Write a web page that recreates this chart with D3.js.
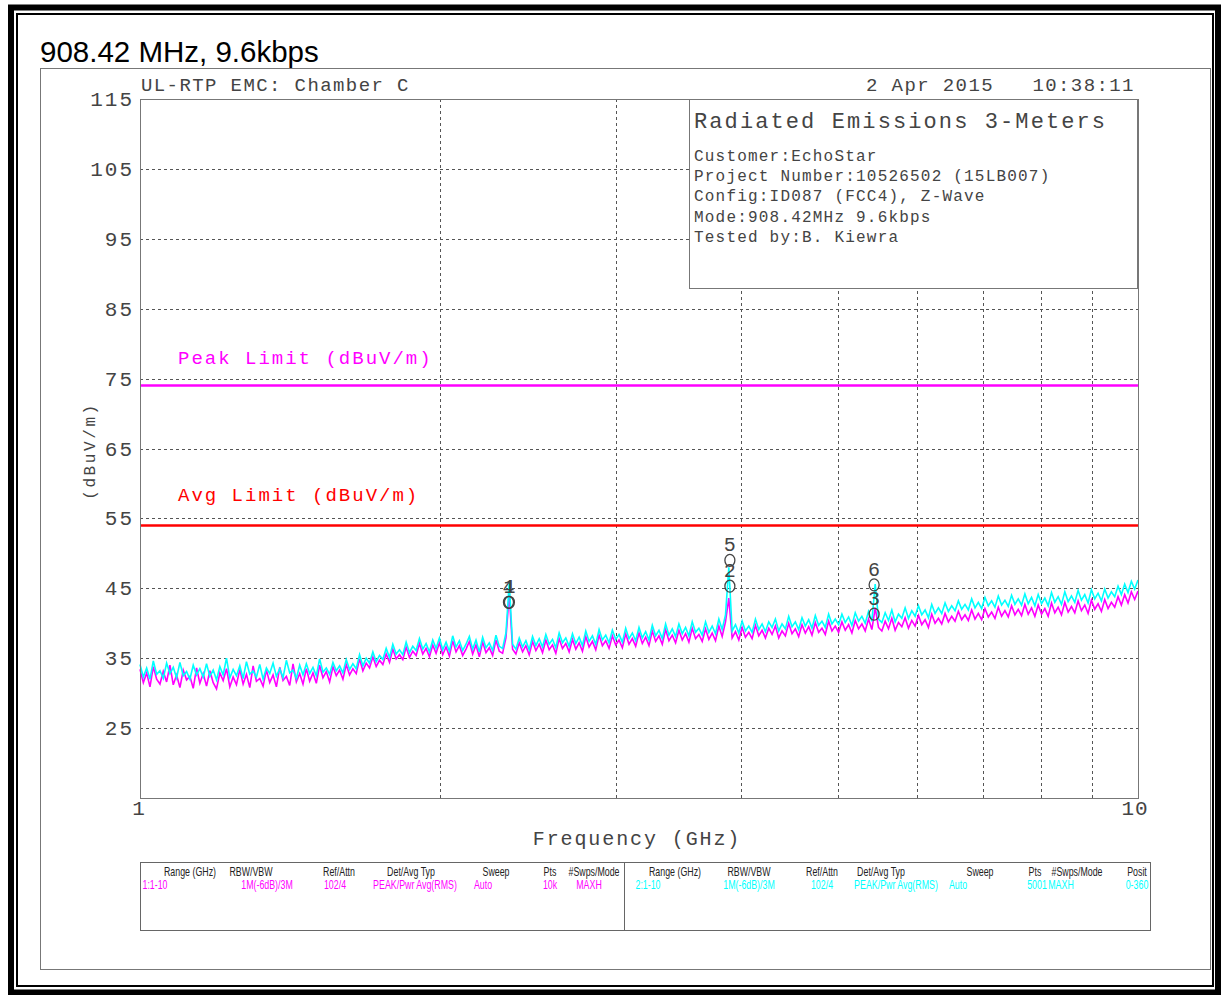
<!DOCTYPE html>
<html>
<head>
<meta charset="utf-8">
<script src="https://cdn.jsdelivr.net/npm/d3@7"></script>
<style>
  html, body { margin: 0; padding: 0; background: #fff; }
  svg { display: block; }
  .plot-font { font-family: "Liberation Mono", "DejaVu Sans Mono", monospace; fill: #444; }
  .table-font { font-family: "Liberation Sans", Arial, sans-serif; }
</style>
</head>
<body>
<svg id="chart" width="1223" height="995"></svg>
<script>
// ---- chart data ----
const chartTitle = "908.42 MHz, 9.6kbps";
const yTickValues = [25, 35, 45, 55, 65, 75, 85, 95, 105, 115];
const xGridValues = [2, 3, 4, 5, 6, 7, 8, 9];
const xTickLabels = [{ f: 1, text: "1" }, { f: 10, text: "10" }];
const peakLimit = 74;
const avgLimit = 54;
const sweepStart = 1;   // GHz
const sweepStop = 10;   // GHz

// Trace 1 (magenta), dBuV/m, sweep points spread evenly over the log frequency axis
const trace1 = [
  33.4, 31.5, 32.9, 30.9, 33.8, 32.0, 31.3, 33.1, 31.6, 34.0,
  31.2, 32.6, 30.8, 33.3, 31.9, 32.4, 30.7, 33.6, 31.4, 32.8,
  31.0, 33.2, 31.5, 30.6, 32.9, 31.8, 33.5, 30.9, 32.3, 31.2,
  33.4, 31.3, 32.7, 30.8, 33.9, 31.7, 32.1, 31.0, 33.3, 31.5,
  32.6, 30.9, 33.7, 31.8, 32.4, 31.1, 34.2, 31.6, 32.8, 31.3,
  33.5, 31.7, 32.9, 31.4, 34.0, 32.2, 33.1, 31.6, 33.8, 32.5,
  33.3, 32.0, 34.1, 32.6, 33.5, 32.8, 34.9, 33.2, 34.3, 33.6,
  35.2, 33.8, 34.7, 34.1, 35.6, 34.4, 36.3, 34.9, 35.5, 34.8,
  36.6, 35.1, 36.0, 35.4, 37.1, 35.6, 36.4, 35.2, 36.9, 35.7,
  37.2, 35.5, 36.6, 35.3, 37.5, 35.9, 36.8, 35.4, 36.3, 37.4,
  35.6, 36.9, 35.2, 37.3, 35.8, 36.5, 35.4, 37.6, 36.0, 35.7,
  37.9, 44.2, 36.3, 35.6, 37.2, 35.9, 36.8, 35.5, 37.4, 36.1,
  37.0, 35.8, 37.6, 36.2, 36.9, 35.7, 37.8, 36.4, 37.1, 35.9,
  37.7, 36.3, 37.2, 36.0, 38.1, 36.6, 37.4, 36.2, 38.3, 36.8,
  37.5, 36.4, 38.2, 36.9, 37.6, 36.5, 38.5, 37.0, 37.8, 36.7,
  38.6, 37.1, 38.0, 36.8, 38.9, 37.4, 38.2, 37.0, 39.1, 37.5,
  38.3, 37.2, 39.0, 37.6, 38.5, 37.3, 39.3, 37.8, 38.4, 37.4,
  39.2, 37.7, 38.6, 37.5, 39.6, 38.1, 40.2, 43.6, 37.9, 38.8,
  37.6, 39.4, 38.0, 38.7, 37.8, 39.7, 38.2, 39.0, 37.9, 39.3,
  38.4, 39.6, 37.9, 38.9, 38.2, 40.0, 38.5, 39.2, 38.1, 39.8,
  38.6, 39.5, 38.3, 40.1, 38.7, 39.3, 38.4, 40.3, 38.9, 39.6,
  38.7, 40.2, 39.0, 39.8, 38.6, 40.4, 39.2, 39.9, 38.9, 40.6,
  39.1, 42.2, 39.4, 38.9, 40.3, 39.2, 40.7, 39.0, 40.1, 39.5,
  40.8, 39.3, 40.4, 39.6, 41.1, 39.8, 40.5, 39.4, 41.3, 40.0,
  40.7, 39.9, 41.4, 40.2, 41.0, 40.3, 41.7, 40.5, 41.2, 40.4,
  41.9, 40.6, 41.4, 40.5, 42.1, 40.9, 41.6, 40.7, 42.3, 41.0,
  41.8, 40.9, 42.5, 41.2, 42.0, 41.1, 42.7, 41.3, 42.2, 41.0,
  42.6, 41.3, 42.1, 41.0, 42.9, 41.5, 42.3, 41.2, 43.0, 41.6,
  42.4, 41.5, 43.2, 41.8, 42.6, 41.4, 43.3, 42.0, 42.8, 41.7,
  43.4, 42.1, 43.0, 42.3, 43.8, 42.6, 44.1, 42.9, 44.5, 43.4,
  44.6
];

// Trace 2 (cyan), dBuV/m, same sweep grid
const trace2 = [
  34.1, 32.3, 33.6, 32.0, 34.6, 32.7, 33.2, 32.1, 34.3, 32.8,
  33.7, 32.2, 34.4, 32.5, 33.1, 32.0, 34.0, 32.6, 33.5, 32.3,
  34.2, 32.4, 33.3, 31.9, 33.8, 32.6, 35.0, 32.2, 33.4, 32.5,
  33.9, 32.1, 34.5, 32.7, 33.2, 32.3, 34.1, 32.0, 33.6, 32.8,
  34.3, 32.4, 33.5, 32.2, 34.7, 32.9, 33.3, 32.1, 34.0, 32.6,
  34.2, 32.8, 33.7, 32.5, 34.9, 33.0, 33.6, 32.7, 34.4, 33.2,
  33.9, 32.9, 34.8, 33.4, 34.2, 33.5, 35.5, 33.9, 35.0, 34.3,
  35.9, 34.5, 35.4, 34.8, 36.4, 35.1, 37.0, 35.6, 36.2, 35.5,
  37.3, 35.8, 36.7, 36.1, 37.8, 36.3, 37.1, 35.9, 37.6, 36.4,
  37.9, 36.2, 37.3, 36.0, 38.2, 36.6, 37.5, 36.1, 37.0, 38.1,
  36.3, 37.6, 35.9, 38.0, 36.5, 37.2, 36.1, 38.3, 36.7, 36.4,
  38.6, 45.8, 37.0, 36.3, 37.9, 36.6, 37.5, 36.2, 38.1, 36.8,
  37.8, 36.6, 38.4, 37.0, 37.7, 36.5, 38.6, 37.2, 37.9, 36.7,
  38.5, 37.1, 38.0, 36.8, 38.9, 37.4, 38.2, 37.0, 39.1, 37.6,
  38.3, 37.2, 39.0, 37.7, 38.4, 37.3, 39.3, 37.8, 38.6, 37.5,
  39.4, 37.9, 38.8, 37.6, 39.7, 38.2, 39.0, 37.8, 39.9, 38.3,
  39.2, 38.1, 39.9, 38.5, 39.4, 38.2, 40.2, 38.7, 39.3, 38.3,
  40.2, 38.7, 39.6, 38.5, 40.6, 39.1, 41.2, 48.0, 38.9, 39.8,
  38.6, 40.3, 38.9, 39.6, 38.7, 40.6, 39.1, 39.9, 38.8, 40.2,
  39.4, 40.6, 38.9, 39.9, 39.2, 41.0, 39.5, 40.2, 39.1, 40.8,
  39.6, 40.5, 39.3, 41.1, 39.7, 40.3, 39.4, 41.3, 39.9, 40.6,
  39.8, 41.3, 40.1, 40.9, 39.7, 41.5, 40.3, 41.0, 40.0, 41.7,
  40.3, 45.6, 40.6, 40.1, 41.5, 40.4, 41.9, 40.2, 41.3, 40.7,
  42.2, 40.7, 41.8, 41.0, 42.5, 41.2, 41.9, 40.8, 42.7, 41.4,
  42.2, 41.4, 42.9, 41.7, 42.5, 41.8, 43.2, 42.0, 42.7, 41.9,
  43.5, 42.2, 43.0, 42.1, 43.7, 42.5, 43.2, 42.3, 43.9, 42.6,
  43.3, 42.4, 44.0, 42.7, 43.5, 42.6, 44.2, 42.8, 43.7, 42.5,
  44.1, 42.8, 43.6, 42.5, 44.4, 43.0, 43.8, 42.7, 44.5, 43.1,
  43.9, 43.0, 44.7, 43.3, 44.1, 42.9, 44.8, 43.5, 44.3, 43.2,
  44.9, 43.6, 44.5, 43.8, 45.3, 44.1, 45.6, 44.4, 46.0, 44.9,
  46.2
];

// Marker labels with their marker circle positions
const markers = [
  { label: "4", f: 2.34, db: 43.0 },
  { label: "1", f: 2.345, db: 43.0 },
  { label: "5", f: 3.90, db: 49.0 },
  { label: "2", f: 3.90, db: 45.3 },
  { label: "6", f: 5.44, db: 45.5 },
  { label: "3", f: 5.44, db: 41.3 }
];

const headerLeft = "UL-RTP EMC: Chamber C";
const headerRight = "2 Apr 2015   10:38:11";
const infoTitle = "Radiated Emissions 3-Meters";
const infoLines = [
  "Customer:EchoStar",
  "Project Number:10526502 (15LB007)",
  "Config:ID087 (FCC4), Z-Wave",
  "Mode:908.42MHz 9.6kbps",
  "Tested by:B. Kiewra"
];

const tableHeaders1 = ["Range (GHz)", "RBW/VBW", "Ref/Attn", "Det/Avg Typ", "Sweep", "Pts", "#Swps/Mode"];
const tableRow1 = ["1:1-10", "1M(-6dB)/3M", "102/4", "PEAK/Pwr Avg(RMS)", "Auto", "10k", "MAXH"];
const tableHeaders2 = ["Range (GHz)", "RBW/VBW", "Ref/Attn", "Det/Avg Typ", "Sweep", "Pts", "#Swps/Mode", "Posit"];
const tableRow2 = ["2:1-10", "1M(-6dB)/3M", "102/4", "PEAK/Pwr Avg(RMS)", "Auto", "5001", "MAXH", "0-360"];

// ---- layout ----
const svg = d3.select("#chart");
const plot = { left: 140, right: 1138, top: 99, bottom: 798 };
const magenta = "#ff00ff", cyan = "#00ffff", red = "#ff0000";

const x = d3.scaleLog().domain([sweepStart, sweepStop]).range([plot.left, plot.right]);
const y = d3.scaleLinear().domain([15, 115]).range([plot.bottom, plot.top]);

// page frame: heavy outer border with a thin rule inside it
svg.append("rect").attr("x", 11).attr("y", 7.5).attr("width", 1207).attr("height", 985)
  .attr("fill", "none").attr("stroke", "#000").attr("stroke-width", 6);
svg.append("rect").attr("x", 17).attr("y", 14).attr("width", 1196).attr("height", 972)
  .attr("fill", "none").attr("stroke", "#000").attr("stroke-width", 2);

// inner sheet frame
svg.append("rect").attr("x", 40.5).attr("y", 68.5).attr("width", 1170).attr("height", 901)
  .attr("fill", "none").attr("stroke", "#777").attr("stroke-width", 1);

svg.append("text").attr("x", 40).attr("y", 62)
  .attr("font-family", "Arial, 'Liberation Sans', sans-serif").attr("font-size", 29.5)
  .attr("fill", "#000").text(chartTitle);

// header lines
svg.append("text").attr("class", "plot-font").attr("x", 141).attr("y", 91)
  .attr("font-size", 19).attr("letter-spacing", 1.4).text(headerLeft);
svg.append("text").attr("class", "plot-font").attr("x", 866).attr("y", 91)
  .attr("font-size", 19).attr("letter-spacing", 1.4)
  .style("white-space", "pre").text(headerRight);

// grid
const grid = svg.append("g").attr("stroke", "#555").attr("stroke-width", 1)
  .attr("stroke-dasharray", "3,3");
grid.selectAll("line.h").data(yTickValues.filter(v => v < 115)).join("line")
  .attr("x1", plot.left).attr("x2", plot.right)
  .attr("y1", d => Math.round(y(d)) + 0.5).attr("y2", d => Math.round(y(d)) + 0.5);
grid.selectAll("line.v").data(xGridValues).join("line")
  .attr("x1", d => Math.round(x(d)) + 0.5).attr("x2", d => Math.round(x(d)) + 0.5)
  .attr("y1", plot.top).attr("y2", plot.bottom);

// y tick labels
svg.append("g").selectAll("text").data(yTickValues).join("text")
  .attr("class", "plot-font").attr("font-size", 21).attr("letter-spacing", 2)
  .attr("text-anchor", "end").attr("x", 134).attr("y", d => y(d) + 7)
  .text(d => d);

// x tick labels
svg.append("g").selectAll("text").data(xTickLabels).join("text")
  .attr("class", "plot-font").attr("font-size", 21).attr("letter-spacing", 1)
  .attr("text-anchor", "middle").attr("x", d => x(d.f) - (d.f === 10 ? 3 : 1)).attr("y", 815)
  .text(d => d.text);

svg.append("text").attr("class", "plot-font").attr("font-size", 20).attr("letter-spacing", 1.9)
  .attr("text-anchor", "middle").attr("x", 637).attr("y", 845).text("Frequency (GHz)");

svg.append("text").attr("class", "plot-font").attr("font-size", 16).attr("letter-spacing", 2.6)
  .attr("text-anchor", "middle")
  .attr("transform", "translate(95,451) rotate(-90)").text("(dBuV/m)");

// info box
svg.append("rect").attr("x", 689.5).attr("y", 99.5).attr("width", 448).attr("height", 189)
  .attr("fill", "#fff").attr("stroke", "#777").attr("stroke-width", 1);
svg.append("text").attr("class", "plot-font").attr("x", 694).attr("y", 128)
  .attr("font-size", 22).attr("letter-spacing", 2.1).text(infoTitle);
svg.append("g").selectAll("text").data(infoLines).join("text")
  .attr("class", "plot-font").attr("x", 694).attr("y", (d, i) => 161 + i * 20.2)
  .attr("font-size", 16).attr("letter-spacing", 1.2).text(d => d);

// limit lines and their labels
svg.append("line").attr("x1", plot.left).attr("x2", plot.right)
  .attr("y1", y(peakLimit)).attr("y2", y(peakLimit))
  .attr("stroke", magenta).attr("stroke-width", 2.5);
svg.append("line").attr("x1", plot.left).attr("x2", plot.right)
  .attr("y1", y(avgLimit)).attr("y2", y(avgLimit))
  .attr("stroke", red).attr("stroke-width", 2.5);
svg.append("text").attr("class", "plot-font").attr("x", 178).attr("y", 364)
  .attr("font-size", 19).attr("letter-spacing", 2).style("fill", magenta)
  .text("Peak Limit (dBuV/m)");
svg.append("text").attr("class", "plot-font").attr("x", 178).attr("y", 501)
  .attr("font-size", 19).attr("letter-spacing", 2).style("fill", red)
  .text("Avg Limit (dBuV/m)");

// traces
const n = trace1.length;
const freqAt = i => sweepStart * Math.pow(sweepStop / sweepStart, i / (n - 1));
const line = d3.line().x((d, i) => x(freqAt(i))).y(d => y(d));
svg.append("path").datum(trace1).attr("d", line)
  .attr("fill", "none").attr("stroke", magenta).attr("stroke-width", 1.6);
svg.append("path").datum(trace2).attr("d", line)
  .attr("fill", "none").attr("stroke", cyan).attr("stroke-width", 1.6);

// markers
const mk = svg.append("g");
mk.selectAll("ellipse").data(markers).join("ellipse")
  .attr("cx", d => x(d.f)).attr("cy", d => y(d.db)).attr("rx", 5).attr("ry", 6)
  .attr("fill", "none").attr("stroke", "#444").attr("stroke-width", 1.3);
mk.selectAll("text").data(markers).join("text")
  .attr("class", "plot-font").attr("font-size", 20).attr("text-anchor", "middle")
  .attr("x", d => x(d.f)).attr("y", d => y(d.db) - 9).text(d => d.label);

// plot border
svg.append("rect").attr("x", plot.left + 0.5).attr("y", plot.top + 0.5)
  .attr("width", plot.right - plot.left).attr("height", plot.bottom - plot.top)
  .attr("fill", "none").attr("stroke", "#777").attr("stroke-width", 1);

// settings table
const tbl = { left: 140, right: 1150, top: 862, bottom: 930, split: 624 };
svg.append("defs").append("clipPath").attr("id", "tblClip").append("rect")
  .attr("x", tbl.left).attr("y", tbl.top).attr("width", tbl.right - tbl.left).attr("height", tbl.bottom - tbl.top);
svg.append("rect").attr("x", tbl.left + 0.5).attr("y", tbl.top + 0.5)
  .attr("width", tbl.right - tbl.left).attr("height", tbl.bottom - tbl.top)
  .attr("fill", "none").attr("stroke", "#666").attr("stroke-width", 1);
svg.append("line").attr("x1", tbl.split + 0.5).attr("x2", tbl.split + 0.5)
  .attr("y1", tbl.top).attr("y2", tbl.bottom).attr("stroke", "#666");

const hdrX1 = [190, 251, 339, 411, 496, 550, 594];
const valX1 = [155, 267, 335, 415, 483, 550, 589];
const hdrX2 = [675, 749, 822, 881, 980, 1035, 1077, 1137];
const valX2 = [648, 749, 822, 896, 958, 1037, 1061, 1137];

const tg = svg.append("g").attr("class", "table-font").attr("font-size", 13)
  .attr("text-anchor", "middle").attr("clip-path", "url(#tblClip)");
const cell = (cls, data, xs, yPos, color) =>
  tg.selectAll("text." + cls).data(data).join("text").attr("class", cls)
    .attr("transform", (d, i) => `translate(${xs[i]},${yPos}) scale(0.68,1)`)
    .attr("fill", color).text(d => d);
cell("h1", tableHeaders1, hdrX1, 876, "#222");
cell("v1", tableRow1, valX1, 889, magenta);
cell("h2", tableHeaders2, hdrX2, 876, "#222");
cell("v2", tableRow2, valX2, 889, cyan);
</script>
</body>
</html>
